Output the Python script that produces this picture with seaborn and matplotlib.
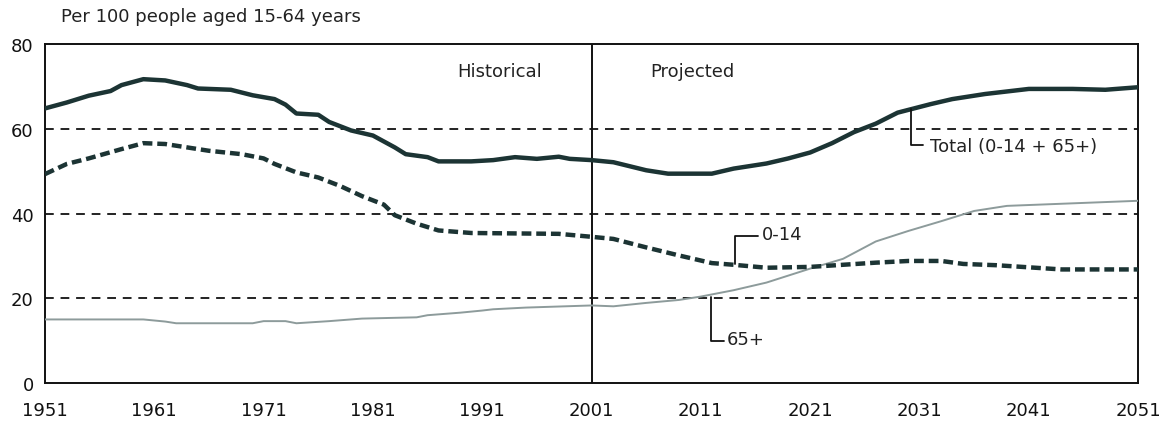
import matplotlib
matplotlib.use("Agg")
import matplotlib.pyplot as plt
import pandas as pd
import seaborn as sns

# Dependency ratios, per 100 people aged 15-64
total_years = [1951, 1953, 1955, 1957, 1958, 1960, 1962, 1964, 1965, 1968, 1970, 1972, 1973, 1974,
               1976, 1977, 1979, 1981, 1983, 1984, 1986, 1987, 1990, 1992, 1994, 1996, 1998, 1999,
               2001, 2003, 2006, 2008, 2012, 2014, 2017, 2019, 2021, 2023, 2025, 2027, 2029, 2032,
               2034, 2037, 2041, 2045, 2048, 2051]
total_vals = [64.8, 66.2, 67.8, 68.9, 70.3, 71.7, 71.4, 70.3, 69.5, 69.2, 67.9, 67.0, 65.7, 63.6,
              63.3, 61.6, 59.6, 58.4, 55.6, 54.0, 53.3, 52.3, 52.3, 52.6, 53.3, 52.9, 53.4, 52.9,
              52.6, 52.1, 50.2, 49.4, 49.4, 50.6, 51.8, 53.0, 54.4, 56.6, 59.2, 61.2, 63.8, 65.8,
              67.0, 68.2, 69.4, 69.4, 69.2, 69.8]

young_years = [1951, 1953, 1955, 1958, 1960, 1962, 1964, 1966, 1969, 1971, 1972, 1974, 1976,
               1978, 1980, 1982, 1983, 1985, 1987, 1990, 1998, 2001, 2003, 2006, 2009, 2012,
               2014, 2017, 2021, 2024, 2027, 2030, 2033, 2035, 2038, 2041, 2044, 2051]
young_vals = [49.3, 51.7, 53.0, 55.2, 56.6, 56.4, 55.6, 54.8, 54.0, 53.0, 51.7, 49.7, 48.5,
              46.5, 44.1, 42.1, 39.6, 37.6, 36.0, 35.4, 35.2, 34.5, 34.0, 32.0, 30.1, 28.3,
              27.9, 27.2, 27.4, 27.9, 28.4, 28.8, 28.8, 28.1, 27.8, 27.3, 26.8, 26.8]

old_years = [1951, 1960, 1962, 1963, 1970, 1971, 1973, 1974, 1977, 1980, 1985, 1986, 1989,
             1991, 1992, 1995, 2001, 2003, 2006, 2009, 2011, 2014, 2017, 2021, 2024, 2027,
             2030, 2033, 2036, 2039, 2044, 2051]
old_vals = [15.0, 15.0, 14.5, 14.1, 14.1, 14.6, 14.6, 14.1, 14.6, 15.2, 15.5, 16.0, 16.6,
            17.1, 17.4, 17.8, 18.3, 18.1, 18.9, 19.6, 20.4, 21.9, 23.7, 27.0, 29.3, 33.4,
            35.9, 38.2, 40.6, 41.8, 42.3, 43.0]

x_ticks = [1951, 1961, 1971, 1981, 1991, 2001, 2011, 2021, 2031, 2041, 2051]
y_ticks = [0, 20, 40, 60, 80]

dark = "#1c3434"
grey = "#8d9b9b"
txt = "#222222"
fs = 13

sns.set_style("white")
plt.rcParams["font.family"] = ["DejaVu Sans"]

fig = plt.figure(figsize=(11.59, 4.27), dpi=100)
ax = fig.add_axes([0.0388, 0.1007, 0.9432, 0.7939])

# gridlines behind the data
for y in [20, 40, 60]:
    ax.axhline(y, color="#222222", linewidth=1.4, linestyle=(0, (4.5, 3.5)), zorder=1)
ax.axvline(2001, color="#111111", linewidth=1.4, zorder=1)

sns.lineplot(x=old_years, y=old_vals, ax=ax, color=grey, linewidth=1.4, zorder=3)
sns.lineplot(x=young_years, y=young_vals, ax=ax, color=dark, linewidth=3.2,
             linestyle=(0, (2.2, 1.1)), zorder=3)
sns.lineplot(x=total_years, y=total_vals, ax=ax, color=dark, linewidth=3.2, zorder=4)

ax.set_xlim(1951, 2051)
ax.set_ylim(0, 80)
ax.set_xticks(x_ticks)
ax.set_yticks(y_ticks)
ax.tick_params(axis="x", direction="out", length=5, width=1.2, color="#111111",
               labelsize=fs, pad=8, labelcolor="#111111")
ax.tick_params(axis="y", length=0, labelsize=fs, pad=8, labelcolor="#111111")
for s in ax.spines.values():
    s.set_color("#111111")
    s.set_linewidth(1.4)

ax.set_xlabel("")
ax.set_ylabel("")

fig.text(0.053, 0.96, "Per 100 people aged 15-64 years", fontsize=fs, color=txt,
         va="center", ha="left")

ax.text(1992.6, 73.6, "Historical", fontsize=fs, ha="center", va="center", color=txt)
ax.text(2010.2, 73.6, "Projected", fontsize=fs, ha="center", va="center", color=txt)

# leader lines for series labels
lk = dict(color="#111111", linewidth=1.3, zorder=5)
ax.plot([2030.25, 2030.25, 2031.3], [64.6, 56.2, 56.2], **lk)
ax.text(2032.0, 56.0, "Total (0-14 + 65+)", fontsize=fs, va="center", ha="left", color=txt)

ax.plot([2014.1, 2014.1, 2016.2], [28.1, 34.6, 34.6], **lk)
ax.text(2016.6, 35.2, "0-14", fontsize=fs, va="center", ha="left", color=txt)

ax.plot([2011.9, 2011.9, 2013.1], [20.4, 10.0, 10.0], **lk)
ax.text(2013.4, 10.3, "65+", fontsize=fs, va="center", ha="left", color=txt)

fig.savefig("out.png", dpi=100)
